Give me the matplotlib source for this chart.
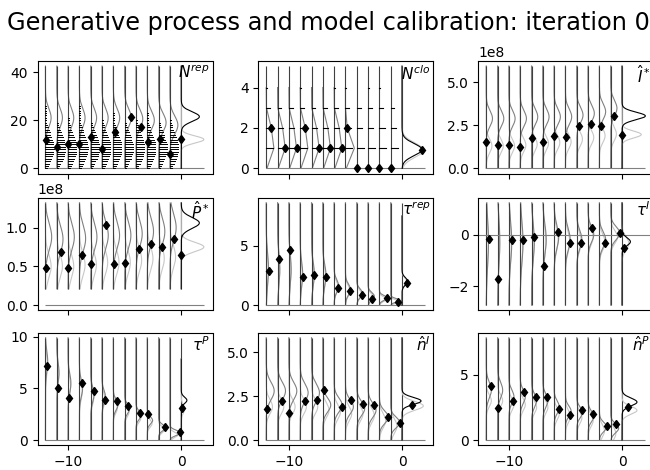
import numpy as np
import matplotlib.pyplot as plt

# columns of the generative process, the last one (x=0) is the calibration column
steps = np.arange(-12, 1)

labels = [r'$N^{rep}$', r'$N^{clo}$', r'$\hat{I}^*$',
          r'$\hat{P}^*$', r'$\tau^{rep}$', r'$\tau^{I}$',
          r'$\tau^{P}$', r'$\hat{n}^{I}$', r'$\hat{n}^{P}$']
units = [1, 1, 1e8, 1e8, 1, 1, 1, 1, 1]
yticks = [[0, 20, 40], [0, 2, 4], [0, 2.5, 5], [0, 0.5, 1.0], [0, 5],
          [-2, 0], [0, 5, 10], [0, 2.5, 5], [0, 5]]

# support of the densities drawn at each step (vertical lines) and of the final black density
line_range = [(0, 42.5), (0, 5.06), (0, 5.95), (0.21, 1.32), (0, 8.6),
              (-2.74, 1.23), (0, 9.9), (0, 5.83), (0, 7.8)]
black_range = [(0, 42.5), (0, 5.06), (0, 5.95), (0.21, 1.32), (0, 7.5),
               (-2.74, 1.23), (0, 7.85), (0, 5.83), (0, 7.8)]

# observed values (13 steps)
observed = [
    [12.0, 8.8, 10.1, 10.1, 13.1, 8.1, 15.2, 21.2, 17.2, 11.0, 12.1, 6.1, 12.1],
    [2, 1, 1, 2, 1, 1, 1, 2, 0, 0, 0, 0, 0.93],
    [1.52, 1.38, 1.36, 1.24, 1.77, 1.54, 1.91, 1.81, 2.46, 2.58, 2.46, 3.03, 1.93],
    [0.48, 0.69, 0.48, 0.65, 0.53, 1.04, 0.53, 0.54, 0.73, 0.79, 0.75, 0.85, 0.65],
    [2.85, 3.87, 4.61, 2.38, 2.54, 2.38, 1.44, 1.16, 0.86, 0.5, 0.58, 0.3, 1.85],
    [-0.19, -1.74, -0.23, -0.22, -0.09, -1.21, 0.09, -0.34, -0.34, 0.26, -0.32, 0.05, -0.52],
    [7.15, 5.03, 4.07, 5.54, 4.74, 3.85, 3.78, 3.33, 2.66, 2.56, 1.31, 0.74, 3.14],
    [1.8, 2.23, 1.57, 2.2, 2.29, 2.88, 1.91, 2.27, 2.05, 1.99, 1.29, 0.98, 2.0],
    [4.12, 2.47, 2.95, 3.64, 3.26, 3.26, 2.35, 1.94, 2.32, 2.02, 1.09, 1.19, 2.5],
]

nan = np.nan
# model density per step (grey): centre, spread, width of the bump
grey_mu = [
    [21, 21, 21, 21, 21, 21, 21, 21, 20.5, 20, 19, 18],
    [1.35, 1.35, 1.35, 1.35, 1.35, 1.35, 1.35, 1.1, nan, nan, nan, nan],
    [2.9, 2.9, 2.9, 2.9, 3.0, 3.0, 3.0, 3.0, 3.1, 3.2, 3.3, 3.5],
    [0.88, 0.85, 0.88, 0.86, 0.88, 0.9, 0.9, 0.9, 0.92, 0.95, 0.95, 1.0],
    [3.0, 3.0, 3.0, 2.6, 2.6, 2.5, 1.6, 1.3, 1.0, 0.75, 0.6, 0.4],
    [-0.3, -0.3, -0.3, -0.3, -0.3, -0.2, -0.1, -0.2, -0.2, 0.0, -0.2, 0.05],
    [7.6, 6.5, 5.5, 5.0, 4.4, 4.2, 3.4, 3.0, 2.4, 1.9, 1.2, 0.7],
    [2.8, 2.8, 2.8, 2.7, 2.7, 2.0, 2.0, 1.9, 1.8, 1.7, 1.3, 1.0],
    [3.8, 3.8, 3.3, 3.3, 3.0, 3.0, 2.5, 2.2, 2.1, 1.8, 1.0, 0.9],
]
grey_sd = [
    [3.8] * 12,
    [0.6] * 7 + [0.5, nan, nan, nan, nan],
    [0.45] * 12,
    [0.17] * 12,
    [1.3, 1.3, 1.3, 1.0, 1.0, 0.9, 0.5, 0.45, 0.35, 0.3, 0.2, 0.15],
    [0.9, 0.9, 0.8, 0.8, 0.7, 0.6, 0.45, 0.4, 0.35, 0.3, 0.3, 0.25],
    [1.0, 1.0, 0.9, 0.8, 0.7, 0.6, 0.5, 0.45, 0.4, 0.35, 0.3, 0.25],
    [0.5, 0.5, 0.5, 0.5, 0.5, 0.4, 0.4, 0.4, 0.4, 0.4, 0.35, 0.3],
    [0.6, 0.6, 0.5, 0.5, 0.5, 0.5, 0.45, 0.4, 0.4, 0.4, 0.35, 0.35],
]
grey_peak = [
    [0.5, 0.5, 0.5, 0.5, 0.52, 0.54, 0.56, 0.58, 0.6, 0.62, 0.66, 0.7],
    [0.8] * 12,
    [0.55] * 12,
    [0.55] * 12,
    [0.2, 0.2, 0.2, 0.22, 0.25, 0.28, 0.4, 0.45, 0.5, 0.55, 0.7, 0.8],
    [0.2, 0.2, 0.25, 0.25, 0.25, 0.3, 0.4, 0.42, 0.45, 0.5, 0.55, 0.8],
    [0.2, 0.2, 0.25, 0.28, 0.3, 0.3, 0.4, 0.42, 0.47, 0.47, 0.6, 0.94],
    [0.7] * 10 + [0.8, 0.8],
    [0.45] * 6 + [0.47, 0.5, 0.5, 0.5, 0.65, 0.7],
]
# second (light) density per step, None where it is not drawn
light_mu = [
    None,
    None,
    [1.3, 1.3, 1.3, 1.35, 1.4, 1.45, 1.5, 1.55, 1.7, 1.8, 1.9, 2.0],
    [0.5, 0.5, 0.5, 0.52, 0.52, 0.55, 0.55, 0.55, 0.58, 0.6, 0.6, 0.62],
    [2.8, 2.8, 2.8, 2.4, 2.4, 2.3, 1.5, 1.2, 0.9, 0.65, 0.5, 0.3],
    [-0.4, -0.4, -0.4, -0.4, -0.4, -0.3, -0.2, -0.3, -0.3, -0.1, -0.3, -0.1],
    [7.2, 6.2, 5.2, 4.7, 4.1, 3.9, 3.1, 2.7, 2.1, 1.6, 1.0, 0.5],
    [1.9, 1.9, 1.9, 1.9, 1.9, 1.7, 1.6, 1.5, 1.5, 1.4, 1.1, 0.8],
    [3.0, 3.0, 2.7, 2.7, 2.5, 2.5, 2.0, 1.8, 1.7, 1.5, 0.7, 0.5],
]
light_sd = [None, None, [0.4] * 12, [0.15] * 12,
            [1.3, 1.3, 1.3, 1.0, 1.0, 0.9, 0.5, 0.45, 0.35, 0.3, 0.2, 0.15],
            [0.9, 0.9, 0.8, 0.8, 0.7, 0.6, 0.45, 0.4, 0.35, 0.3, 0.3, 0.25],
            [1.0, 1.0, 0.9, 0.8, 0.7, 0.6, 0.5, 0.45, 0.4, 0.35, 0.3, 0.25],
            [0.4] * 12, [0.45] * 12]
light_peak = [None, None, [0.5] * 12, [0.5] * 12,
              [0.18, 0.18, 0.18, 0.2, 0.22, 0.25, 0.35, 0.4, 0.45, 0.5, 0.6, 0.7],
              [0.18, 0.18, 0.22, 0.22, 0.22, 0.27, 0.35, 0.38, 0.4, 0.45, 0.5, 0.6],
              [0.18, 0.18, 0.22, 0.25, 0.27, 0.27, 0.35, 0.38, 0.42, 0.42, 0.5, 0.7],
              [0.55] * 12, [0.45] * 12]

# calibrated density at x=0: (centre, spread, width)
right_black = [(21.5, 2.0, 1.6), (0.93, 0.3, 1.76), (3.05, 0.22, 2.06), (1.06, 0.07, 1.6),
               (2.0, 0.3, 0.5), (-0.28, 0.15, 0.74), (3.85, 0.3, 0.5), (2.23, 0.2, 1.68),
               (2.9, 0.3, 1.32)]
right_light = [(12.0, 1.5, 2.0), (0.9, 0.35, 1.9), (1.97, 0.2, 1.7), (0.75, 0.06, 2.0),
               (1.95, 0.3, 0.45), (-0.35, 0.25, 0.6), (3.0, 0.4, 0.3), (1.95, 0.25, 1.88),
               (2.27, 0.3, 1.32)]

# probability bars for the two count variables
nrep_pmf = [0.15, 0.22, 0.32, 0.42, 0.52, 0.6, 0.66, 0.7, 0.72, 0.72, 0.7, 0.66, 0.6, 0.52,
            0.44, 0.36, 0.28, 0.2, 0.14, 0.09, 0.06, 0.04, 0.03, 0.02, 0.01, 0.01, 0.01, 0, 0, 0]
nclo_pmf = [0, 0.6, 0.45, 0.33, 0.05]

LINE_C = '0.25'
GREY_C = '0.5'
LIGHT_C = '0.78'


def bump(y, mu, sd, peak):
    return peak * np.exp(-0.5 * ((np.asarray(y) - mu) / sd) ** 2)


fig = plt.figure(figsize=(6.5, 4.7), dpi=100)
lefts = [37.5, 258.3, 478.3]
tops = [61, 197.7, 332.7]
W, H = 650, 470
axes = []
for p in range(9):
    r, c = divmod(p, 3)
    rect = [lefts[c] / W, 1 - (tops[r] + 112.5) / H, 175 / W, 112.5 / H]
    ax = fig.add_axes(rect, sharex=axes[0] if axes else None)
    axes.append(ax)

for p, ax in enumerate(axes):
    u = units[p]
    lo, hi = line_range[p]
    discrete = p == 1
    grid = np.arange(0, 5) if discrete else np.linspace(lo, hi, 300)

    # densities for each step
    for i, x0 in enumerate(steps[:-1]):
        if light_mu[p] is not None:
            ax.plot(x0 + bump(grid, light_mu[p][i], light_sd[p][i], light_peak[p][i]),
                    grid * u, color=LIGHT_C, lw=0.8, zorder=1)
        if not np.isnan(grey_mu[p][i]):
            ax.plot(x0 + bump(grid, grey_mu[p][i], grey_sd[p][i], grey_peak[p][i]),
                    grid * u, color=GREY_C, lw=0.8, zorder=1)
    ax.vlines(steps, lo * u, hi * u, color=LINE_C, lw=0.8, zorder=2)

    # count bars
    if p == 0:
        for x0 in steps[:-1]:
            k = np.arange(len(nrep_pmf))
            ax.hlines(k, x0, x0 + np.array(nrep_pmf), color='k', lw=0.7,
                      capstyle='projecting', zorder=3)
    if p == 1:
        for x0 in steps[:-1]:
            k = np.arange(1, len(nclo_pmf))
            ax.hlines(k, x0, x0 + np.array(nclo_pmf[1:]), color='k', lw=0.8,
                      capstyle='projecting', zorder=3)

    # calibrated density at x=0
    blo, bhi = black_range[p]
    fine = np.linspace(blo, bhi, 400)
    ax.plot(bump(fine, *right_light[p]), fine * u, color=LIGHT_C, lw=0.8, zorder=2)
    ax.plot(bump(fine, *right_black[p]), fine * u, color='k', lw=0.8, zorder=3)

    # baseline
    if p == 5:
        ax.axhline(0, color=GREY_C, lw=0.8, zorder=2)
    else:
        ax.hlines(0, -12, 2, color=GREY_C, lw=0.8, zorder=2)

    # observed values placed on their density
    obs = observed[p]
    xs = []
    for i, x0 in enumerate(steps[:-1]):
        if np.isnan(grey_mu[p][i]):
            xs.append(x0)
        else:
            xs.append(x0 + float(bump(obs[i], grey_mu[p][i], grey_sd[p][i], grey_peak[p][i])))
    xs.append(float(bump(obs[-1], *right_black[p])))
    ax.plot(xs, np.array(obs) * u, 'd', color='k', ms=4.5, zorder=5)

    ax.set_yticks(np.array(yticks[p]) * u)
    ax.text(0.985, 0.975, labels[p], transform=ax.transAxes, ha='right', va='top', fontsize=11)
    ax.set_xticks([-10, 0])
    if p < 6:
        ax.tick_params(labelbottom=False)

fig.suptitle('Generative process and model calibration: iteration 0',
             fontsize='xx-large', x=0.505, y=0.976, va='top')
fig.savefig('out.png', dpi=100)
